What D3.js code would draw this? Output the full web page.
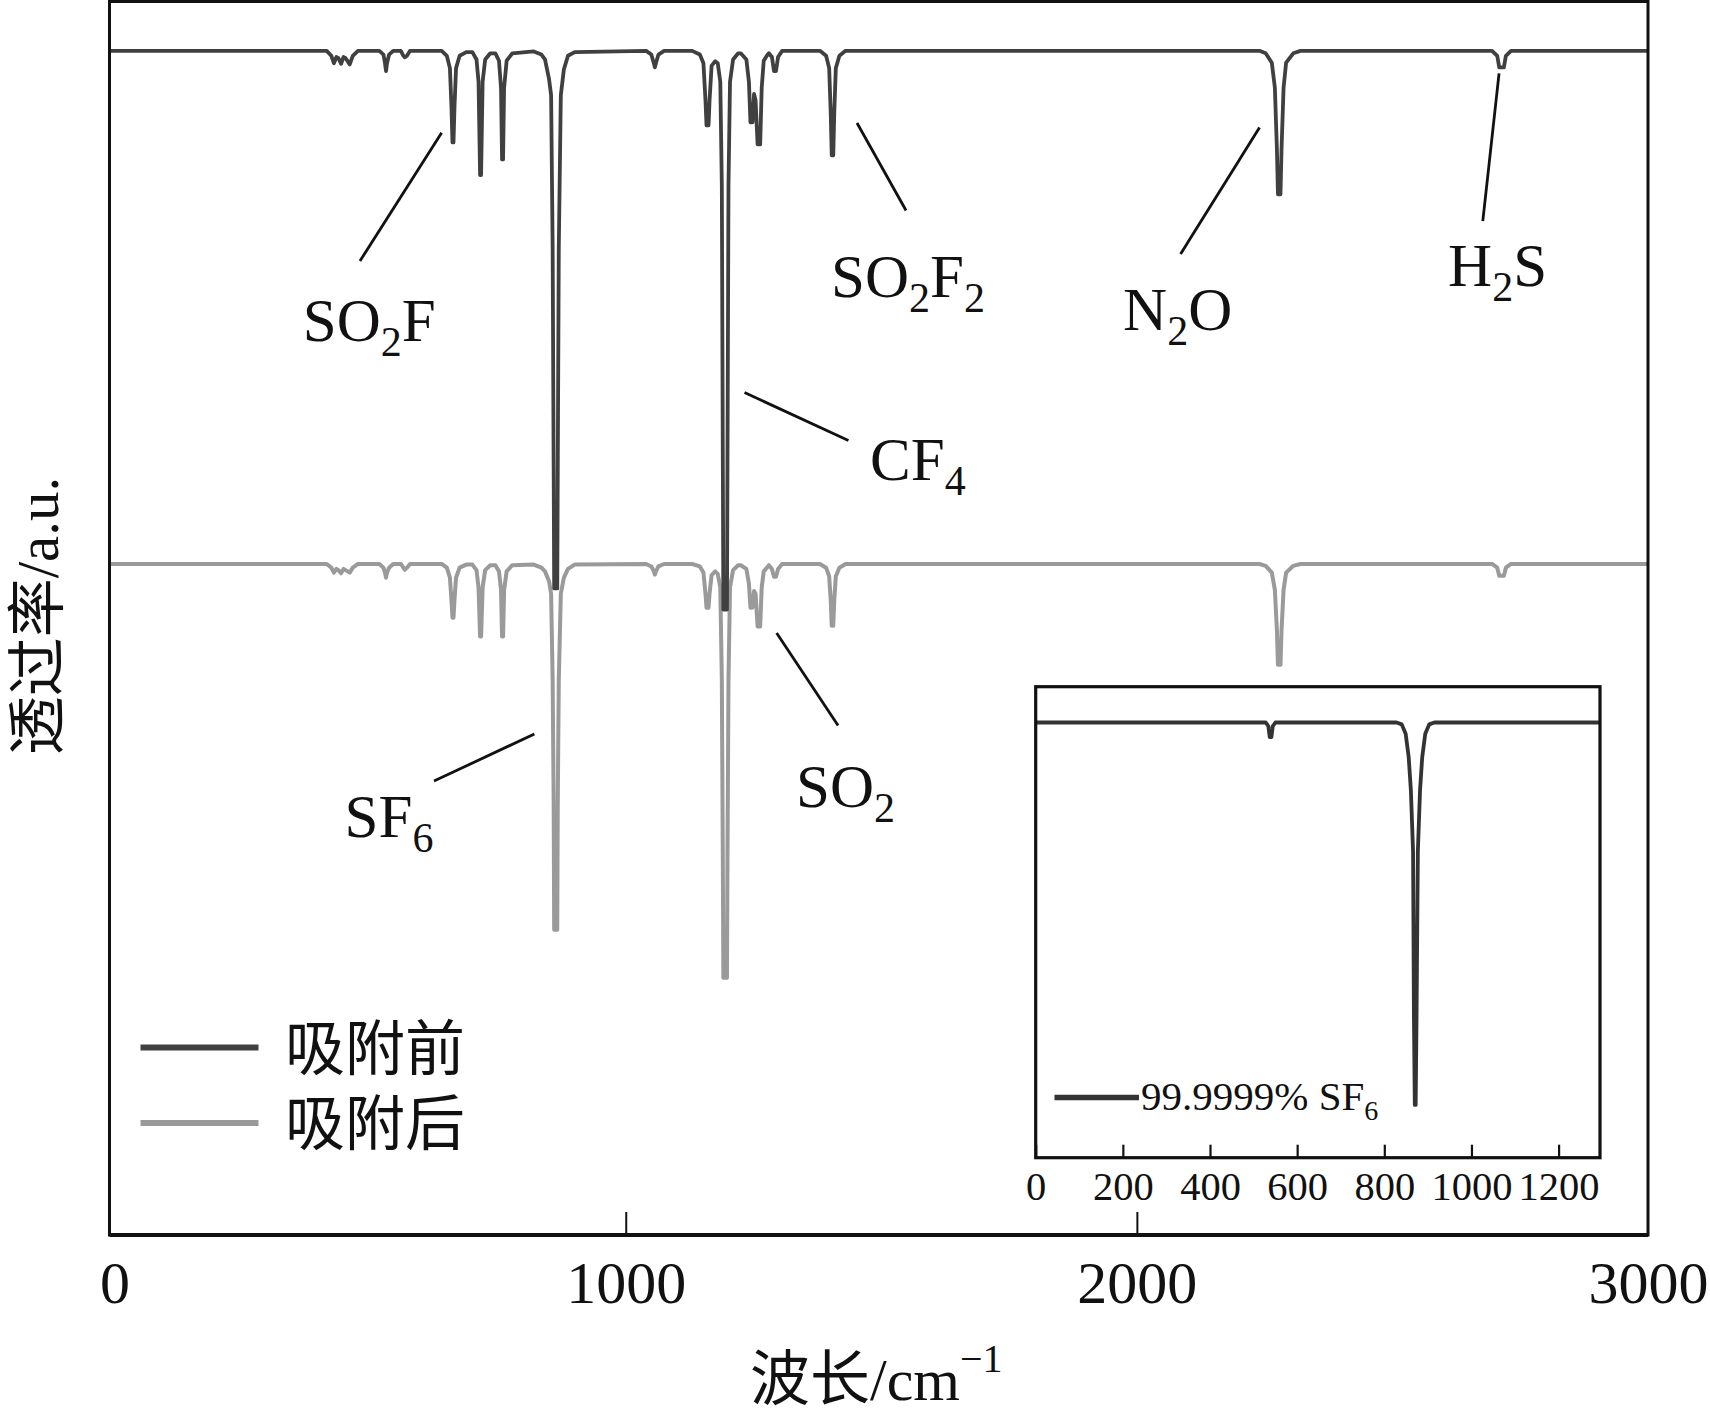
<!DOCTYPE html>
<html><head><meta charset="utf-8">
<script src="https://cdn.jsdelivr.net/npm/d3@7"></script>
<style>
html,body{margin:0;padding:0;background:#fff;}
svg{display:block;}
</style></head>
<body><svg id="chart" width="1710" height="1419"></svg>
<script>
// ---------------- data ----------------
const xTickValues = [0, 1000, 2000, 3000];
const insetTickValues = [0, 200, 400, 600, 800, 1000, 1200];
const seriesNames = ["吸附前", "吸附后"];
const insetName = ["99.9999% SF", "6"];

// 吸附前 : [wavenumber cm-1, transmittance a.u.]
const before = [
[-10,96],[415,96],[424,95.6],[429,95.0],[434,95.5],[438,95.4],[443,94.95],[448,95.5],[452,95.4],[460,94.9],[466,95.6],[476,96],
[518,96],[526,95.7],[529,95.0],[531,94.36],[533,95.0],[537,95.7],[545,96],
[560,96],[565,95.6],[568,95.47],[572,95.6],[578,96],
[640,96],[650,95.6],[656,94.6],[659,91.5],[661,88.58],[663,88.58],[665,91.5],[668,94.6],[675,95.6],[688,95.9],
[700,95.9],[708,95.3],[712,93.5],[715,85.93],[717,85.93],[720,93.5],[725,95.3],[735,95.8],
[745,95.8],[752,95.2],[756,93],[758,87.2],[760,87.2],[762,93],[767,95.2],[778,95.8],
[820,95.95],[835,95.7],[842,95.3],[850,93.7],[854,92.4],[857,80],[859,62],[860,52.42],[866,52.42],[867,62],[869,80],[873,92.4],[879,94.5],[887,95.6],[900,95.9],
[1040,96],[1050,95.7],[1055,95.0],[1057,94.66],[1059,95.0],[1064,95.7],[1075,96],
[1130,96],[1145,95.7],[1152,95.0],[1156,92],[1158,89.96],[1162,89.96],[1164,92],[1168,94.8],[1175,95.15],
[1180,95.0],[1185,93.5],[1188,85],[1190,62],[1191,50.7],[1198,50.7],[1199,62],[1201,85],[1204,93.5],[1210,95.3],[1220,95.8],
[1225,95.8],[1236,95.3],[1241,93.5],[1244,90.2],[1248,90.2],[1251,92.5],[1254,92],[1258,88.42],[1263,88.42],[1266,93],[1270,95.2],[1276,95.6],
[1280,95.8],[1286,95.5],[1290,94.36],[1294,94.36],[1298,95.5],[1306,96],
[1380,96],[1392,95.6],[1398,94.6],[1401,91],[1403,87.53],[1406,87.53],[1408,91],[1411,94.6],[1418,95.6],[1430,96],
[2240,96],[2252,95.8],[2264,95.04],[2270,93],[2274,88],[2276,84.37],[2281,84.37],[2283,88],[2287,93],[2292,95.04],[2306,95.8],[2320,96],
[2695,96],[2705,95.6],[2709,94.66],[2718,94.66],[2722,95.6],[2732,96],
[3000,96]
];

// 吸附后
const after = [
[-10,54.4],[415,54.4],[424,54.1],[429,53.7],[434,54.0],[438,53.9],[443,53.65],[448,54.0],[452,53.9],[460,53.7],[466,54.1],[476,54.4],
[518,54.4],[526,54.1],[529,53.7],[531,53.29],[533,53.7],[537,54.1],[545,54.4],
[560,54.4],[565,54.1],[568,53.94],[572,54.1],[578,54.4],
[640,54.4],[650,54.1],[656,53.3],[659,51.5],[661,50.05],[663,50.05],[665,51.5],[668,53.3],[675,54.1],[688,54.35],
[700,54.35],[708,53.9],[712,52.5],[715,48.53],[717,48.53],[720,52.5],[725,53.9],[735,54.3],
[745,54.3],[752,53.8],[756,52.3],[758,48.53],[760,48.53],[762,52.3],[767,53.8],[778,54.3],
[820,54.35],[835,54.1],[842,53.8],[850,53.0],[854,52.0],[857,45],[859,35],[860,24.75],[866,24.75],[867,35],[869,45],[873,52.0],[879,53.3],[887,54.0],[900,54.35],
[1040,54.4],[1050,54.2],[1055,53.8],[1057,53.53],[1059,53.8],[1064,54.2],[1075,54.4],
[1130,54.4],[1145,54.2],[1152,53.7],[1156,52],[1158,50.86],[1162,50.86],[1164,52],[1168,53.5],[1175,53.8],
[1180,53.6],[1185,52.5],[1188,45],[1190,30],[1191,20.86],[1198,20.86],[1199,30],[1201,45],[1204,52.5],[1210,53.9],[1220,54.3],
[1225,54.3],[1236,54.0],[1241,52.8],[1244,50.86],[1248,50.86],[1251,52.2],[1254,52],[1258,49.34],[1263,49.34],[1266,52.5],[1270,53.8],[1276,54.1],
[1280,54.3],[1286,54.0],[1290,53.37],[1294,53.37],[1298,54.0],[1306,54.4],
[1380,54.4],[1392,54.1],[1398,53.4],[1401,51.5],[1403,49.4],[1406,49.4],[1408,51.5],[1411,53.4],[1418,54.1],[1430,54.4],
[2240,54.4],[2252,54.25],[2264,53.7],[2270,52.3],[2274,49],[2276,46.24],[2281,46.24],[2283,49],[2287,52.3],[2292,53.7],[2306,54.25],[2320,54.4],
[2695,54.4],[2705,54.1],[2709,53.45],[2718,53.45],[2722,54.1],[2732,54.4],
[3000,54.4]
];

// inset: 99.9999% SF6
const insetSpectrum = [
[0,92.4],[528,92.4],[534,91.6],[537,89.3],[541,89.3],[544,91.6],[550,92.4],
[828,92.4],[840,92.0],[849,90.0],[856,85],[861,78],[866,65],[868,30],[870,11.2],[872,11.2],[874,30],[877,65],[882,78],[887,85],[894,90.0],[903,92.0],[915,92.4],
[1295,92.4]
];

// annotation labels (text parts; second element flags subscript)
const annotationLabels = [
  [["SO"],["2",1],["F"]],
  [["SO"],["2",1],["F"],["2",1]],
  [["CF"],["4",1]],
  [["N"],["2",1],["O"]],
  [["H"],["2",1],["S"]],
  [["SO"],["2",1]],
  [["SF"],["6",1]]
];
// annotation anchors in data units: text [x,y], leader [[x1,y1],[x2,y2]]
const annotationAnchors = [
  {text:[368,72.5],   line:[[639.8,89.36],[480,78.96]]},
  {text:[1401.7,76.07],line:[[1452.5,90.15],[1548.4,83.06]]},
  {text:[1478,61.21], line:[[1232.4,68.3],[1435.7,64.41]]},
  {text:[1973,73.33], line:[[2240,89.79],[2085.5,79.53]]},
  {text:[2608.9,76.96],line:[[2708.6,94.18],[2676.8,82.2]]},
  {text:[1333.2,34.7], line:[[1295.2,48.8],[1415.4,41.31]]},
  {text:[450,32.3],   line:[[821.3,40.62],[624.9,36.8]]}
];

// ---------------- drawing ----------------
const svg = d3.select("#chart");
const SERIF = "'Liberation Serif','Times New Roman','Noto Sans CJK SC',serif";
const darkColor = "#404040", grayColor = "#9a9a9a";

const M = {left:109.5, right:1648, top:1.5, bottom:1235};
const x = d3.scaleLinear().domain([-10,3000]).range([M.left, M.right]);
const y = d3.scaleLinear().domain([0,100]).range([M.bottom, M.top]);

svg.append("defs").append("clipPath").attr("id","mainclip")
  .append("rect").attr("x",M.left).attr("y",M.top).attr("width",M.right-M.left).attr("height",M.bottom-M.top);

const line = d3.line().x(d=>x(d[0])).y(d=>y(d[1]));
const plot = svg.append("g").attr("clip-path","url(#mainclip)");
plot.append("path").datum(after).attr("d",line).attr("fill","none")
  .attr("stroke",grayColor).attr("stroke-width",4).attr("stroke-linejoin","round");
plot.append("path").datum(before).attr("d",line).attr("fill","none")
  .attr("stroke",darkColor).attr("stroke-width",3.8).attr("stroke-linejoin","round");

// x axis
const gx = svg.append("g").attr("transform",`translate(0,${M.bottom})`)
  .call(d3.axisBottom(x).tickValues(xTickValues).tickSize(-23).tickFormat(d3.format("d")));
gx.select(".domain").remove();
gx.selectAll(".tick line").attr("stroke","#111").attr("stroke-width",2)
  .filter(d=>d===0||d===3000).remove();
gx.selectAll(".tick text").attr("y",68).attr("dy",0)
  .attr("font-family",SERIF).attr("font-size",60).attr("fill","#111");

// frame
svg.append("rect").attr("x",M.left).attr("y",M.top).attr("width",M.right-M.left).attr("height",M.bottom-M.top)
  .attr("fill","none").attr("stroke","#111").attr("stroke-width",3);
svg.append("line").attr("x1",M.left).attr("x2",M.right).attr("y1",M.bottom).attr("y2",M.bottom)
  .attr("stroke","#111").attr("stroke-width",4);

// axis titles
const xt = svg.append("text").attr("x",750).attr("y",1400).attr("font-size",60).attr("fill","#111")
  .attr("font-family",SERIF);
xt.append("tspan").text("波长/cm");
xt.append("tspan").attr("font-size",40).attr("dy",-28).text("−1");

svg.append("text").attr("transform","translate(58,616) rotate(-90)")
  .attr("text-anchor","middle").attr("font-size",59).attr("fill","#111")
  .attr("font-family",SERIF).text("透过率/a.u.");

// annotations
function richText(g, parts, px, py, size, subSize, subDy){
  const t = g.append("text").attr("x",px).attr("y",py).attr("font-family",SERIF)
    .attr("font-size",size).attr("fill","#111");
  let shifted = false;
  parts.forEach(p=>{
    const ts = t.append("tspan").text(p[0]);
    if (p[1]) { ts.attr("font-size",subSize); if(!shifted){ts.attr("dy",subDy); shifted=true;} }
    else if (shifted) { ts.attr("dy",-subDy); shifted=false; }
  });
  return t;
}
const ann = svg.append("g");
annotationLabels.forEach((parts,i)=>{
  const a = annotationAnchors[i];
  ann.append("line").attr("x1",x(a.line[0][0])).attr("y1",y(a.line[0][1]))
    .attr("x2",x(a.line[1][0])).attr("y2",y(a.line[1][1]))
    .attr("stroke","#111").attr("stroke-width",2.8);
  richText(ann, parts, x(a.text[0]), y(a.text[1]), 61, 42, 15);
});

// legend
const legendY = [1047.5, 1123];
const legendColors = [darkColor, grayColor];
seriesNames.forEach((nm,i)=>{
  svg.append("line").attr("x1",140.5).attr("x2",258.5).attr("y1",legendY[i]).attr("y2",legendY[i])
    .attr("stroke",legendColors[i]).attr("stroke-width",6);
  svg.append("text").attr("x",285).attr("y",legendY[i]+22).attr("font-family",SERIF)
    .attr("font-size",60).attr("fill","#111").text(nm);
});

// ---------------- inset ----------------
const I = {left:1035.7, right:1600, top:686.7, bottom:1157.7};
const xi = d3.scaleLinear().domain([0,1295]).range([I.left, I.right]);
const yi = d3.scaleLinear().domain([0,100]).range([I.bottom, I.top]);
svg.append("rect").attr("x",I.left).attr("y",I.top).attr("width",I.right-I.left).attr("height",I.bottom-I.top)
  .attr("fill","#fff");
const lineI = d3.line().x(d=>xi(d[0])).y(d=>yi(d[1]));
svg.append("path").datum(insetSpectrum).attr("d",lineI).attr("fill","none")
  .attr("stroke","#333").attr("stroke-width",3.8).attr("stroke-linejoin","round");
const gxi = svg.append("g").attr("transform",`translate(0,${I.bottom})`)
  .call(d3.axisBottom(xi).tickValues(insetTickValues).tickSize(-13).tickFormat(d3.format("d")));
gxi.select(".domain").remove();
gxi.selectAll(".tick line").attr("stroke","#111").attr("stroke-width",2.2);
gxi.selectAll(".tick text").attr("y",42).attr("dy",0)
  .attr("font-family",SERIF).attr("font-size",40.5).attr("fill","#111");
svg.append("rect").attr("x",I.left).attr("y",I.top).attr("width",I.right-I.left).attr("height",I.bottom-I.top)
  .attr("fill","none").attr("stroke","#111").attr("stroke-width",3.2);
// inset legend
svg.append("line").attr("x1",1054.5).attr("x2",1139).attr("y1",1097.5).attr("y2",1097.5)
  .attr("stroke","#333").attr("stroke-width",5.5);
richText(svg, [[insetName[0]],[insetName[1],1]], 1141, 1110, 41, 28, 10);
</script>
</body></html>
